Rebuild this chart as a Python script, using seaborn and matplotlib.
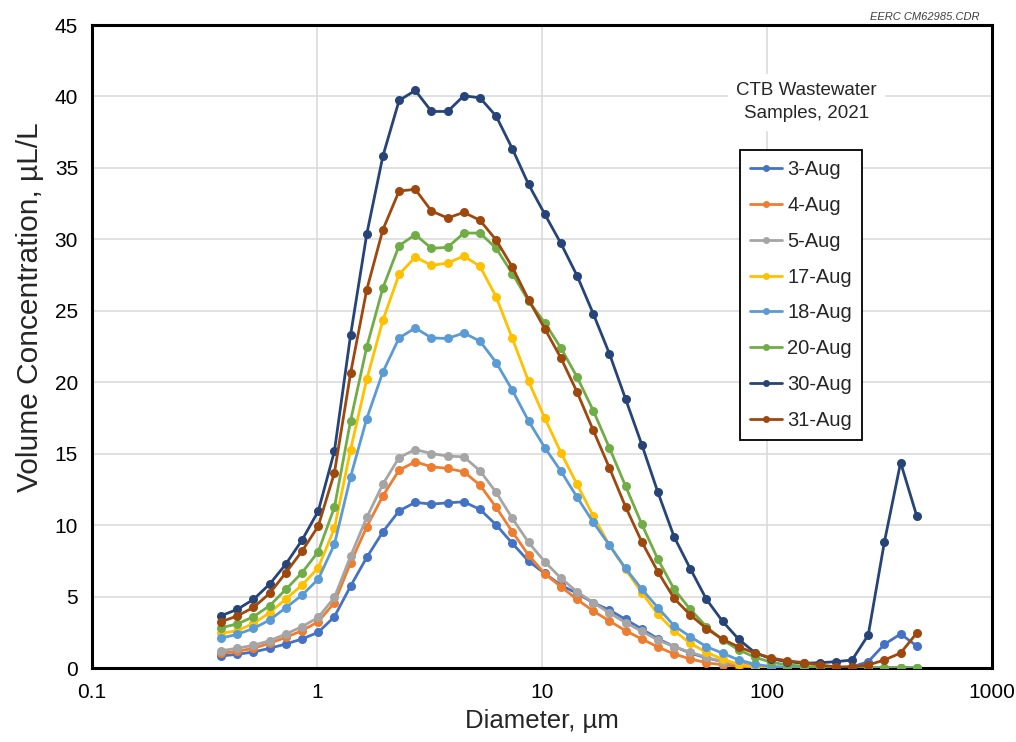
import numpy as np
import pandas as pd
import matplotlib
matplotlib.use("Agg")
import matplotlib.pyplot as plt
import seaborn as sns

# Particle diameter channels, um
diameters = [0.375, 0.442, 0.522, 0.616, 0.727, 0.858, 1.013, 1.195, 1.410, 1.664,
             1.963, 2.317, 2.734, 3.227, 3.807, 4.493, 5.302, 6.256, 7.382, 8.712,
             10.28, 12.13, 14.31, 16.89, 19.93, 23.52, 27.76, 32.75, 38.65, 45.61,
             53.83, 63.52, 74.96, 88.46, 104.4, 123.2, 145.4, 171.5, 202.4, 238.9,
             281.8, 332.6, 392.5, 463.2]

aug03 = [0.84, 0.96, 1.12, 1.38, 1.68, 2.03, 2.5, 3.59, 5.73, 7.74,
         9.53, 11.0, 11.59, 11.47, 11.56, 11.63, 11.1, 10.02, 8.72, 7.48,
         6.62, 5.8, 5.22, 4.57, 4.06, 3.4, 2.73, 2.05, 1.5, 1.05,
         0.7, 0.45, 0.28, 0.15, 0.08, 0.05, 0.03, 0.02, 0.02, 0.08,
         0.44, 1.66, 2.38, 1.54]
aug04 = [1.03, 1.17, 1.38, 1.73, 2.15, 2.61, 3.24, 4.57, 7.36, 9.88,
         12.05, 13.85, 14.43, 14.08, 13.97, 13.73, 12.8, 11.24, 9.53, 7.9,
         6.6, 5.69, 4.8, 3.99, 3.29, 2.61, 2.03, 1.47, 0.98, 0.63,
         0.37, 0.22, 0.12, 0.06, 0.03, 0.02, 0.01, 0.0, 0.0, 0.0,
         0.0, 0.0, 0.0, 0.0]
aug05 = [1.21, 1.38, 1.59, 1.91, 2.38, 2.89, 3.54, 4.94, 7.83, 10.54,
         12.87, 14.73, 15.29, 15.01, 14.83, 14.78, 13.8, 12.29, 10.47, 8.79,
         7.44, 6.29, 5.33, 4.58, 3.85, 3.18, 2.57, 1.96, 1.49, 1.1,
         0.75, 0.44, 0.25, 0.12, 0.05, 0.02, 0.01, 0.0, 0.0, 0.0,
         0.0, 0.0, 0.0, 0.0]
aug17 = [2.42, 2.61, 3.12, 3.87, 4.83, 5.8, 7.02, 9.77, 15.29, 20.21,
         24.34, 27.55, 28.76, 28.18, 28.34, 28.83, 28.11, 25.97, 23.06, 20.07,
         17.5, 15.08, 12.86, 10.65, 8.6, 6.9, 5.27, 3.76, 2.61, 1.72,
         1.1, 0.61, 0.26, 0.05, 0.0, 0.0, 0.0, 0.0, 0.0, 0.0,
         0.0, 0.0, 0.0, 0.0]
aug18 = [2.1, 2.35, 2.77, 3.36, 4.22, 5.1, 6.22, 8.65, 13.38, 17.46,
         20.72, 23.1, 23.8, 23.1, 23.06, 23.45, 22.87, 21.38, 19.44, 17.29,
         15.43, 13.78, 11.96, 10.2, 8.6, 6.97, 5.52, 4.22, 2.96, 2.19,
         1.49, 1.03, 0.56, 0.26, 0.1, 0.05, 0.03, 0.02, 0.01, 0.01,
         0.02, 0.03, 0.03, 0.02]
aug20 = [2.82, 3.08, 3.59, 4.36, 5.5, 6.67, 8.14, 11.24, 17.3, 22.47,
         26.6, 29.56, 30.33, 29.37, 29.44, 30.44, 30.44, 29.37, 27.6, 25.69,
         24.17, 22.4, 20.37, 18.02, 15.41, 12.73, 10.07, 7.6, 5.52, 4.1,
         2.89, 1.96, 1.26, 0.75, 0.4, 0.22, 0.12, 0.06, 0.03, 0.02,
         0.01, 0.01, 0.01, 0.01]
aug30 = [3.66, 4.1, 4.8, 5.87, 7.27, 8.95, 10.98, 15.17, 23.3, 30.37,
         35.83, 39.72, 40.42, 38.95, 38.95, 40.05, 39.9, 38.62, 36.34, 33.85,
         31.77, 29.72, 27.46, 24.8, 22.0, 18.83, 15.64, 12.29, 9.18, 6.95,
         4.8, 3.26, 2.0, 1.07, 0.64, 0.45, 0.33, 0.37, 0.44, 0.56,
         2.31, 8.83, 14.38, 10.63]
aug31 = [3.24, 3.64, 4.24, 5.22, 6.67, 8.18, 9.93, 13.66, 20.63, 26.48,
         30.68, 33.38, 33.5, 31.98, 31.49, 31.89, 31.33, 29.95, 28.06, 25.78,
         23.75, 21.7, 19.32, 16.64, 14.01, 11.28, 8.83, 6.73, 4.87, 3.71,
         2.76, 2.01, 1.47, 1.04, 0.7, 0.5, 0.38, 0.21, 0.08, 0.08,
         0.21, 0.56, 1.05, 2.45]

sample_dates = ["3-Aug", "4-Aug", "5-Aug", "17-Aug", "18-Aug", "20-Aug", "30-Aug", "31-Aug"]
series = [aug03, aug04, aug05, aug17, aug18, aug20, aug30, aug31]
colors = ["#4472C4", "#ED7D31", "#A5A5A5", "#FFC000", "#5B9BD5", "#70AD47", "#264478", "#9E480E"]

df = pd.concat(
    [pd.DataFrame({"Diameter": diameters, "Conc": vals, "Sample": name})
     for name, vals in zip(sample_dates, series)],
    ignore_index=True,
)

sns.set_theme(style="white")
plt.rcParams["font.family"] = ["Liberation Sans", "DejaVu Sans"]

fig = plt.figure(figsize=(10.16, 7.42), dpi=100)
ax = fig.add_axes([92 / 1016, 1 - 668 / 742, 900 / 1016, 643 / 742])

sns.lineplot(
    data=df, x="Diameter", y="Conc", hue="Sample", hue_order=sample_dates,
    palette=colors, marker="o", markersize=6.5, markeredgewidth=0,
    linewidth=2.0, ax=ax, legend=False, zorder=3,
)

ax.set_xscale("log")
ax.set_xlim(0.1, 1000)
ax.set_ylim(0, 45)
ax.set_xticks([0.1, 1, 10, 100, 1000])
ax.set_xticklabels(["0.1", "1", "10", "100", "1000"])
ax.set_yticks(np.arange(0, 46, 5))
ax.minorticks_off()
ax.tick_params(axis="both", length=0, labelsize=15, colors="black")
ax.tick_params(axis="x", pad=11)
ax.tick_params(axis="y", pad=10)
ax.grid(True, which="major", color="#d9d9d9", linewidth=1.1, zorder=0)
ax.set_axisbelow(True)
for sp in ax.spines.values():
    sp.set_color("black")
    sp.set_linewidth(2.2)

ax.set_xlabel("Diameter, \u00b5m", fontsize=18.5, labelpad=5)
ax.set_ylabel("Volume Concentration, \u00b5L/L", fontsize=21.5)
ax.yaxis.set_label_coords(-0.053, 0.561)

handles = [
    plt.Line2D([], [], color=c, marker="o", markersize=5, markeredgewidth=0, linewidth=2.0)
    for c in colors
]
leg = ax.legend(
    handles, sample_dates, loc="upper left", bbox_to_anchor=(0.72, 0.806),
    borderaxespad=0, fontsize=14.5, frameon=True, fancybox=False,
    handlelength=1.6, handletextpad=0.25, labelspacing=0.84,
    borderpad=0.5,
)
leg.get_frame().set_edgecolor("black")
leg.get_frame().set_linewidth(1.3)
leg.get_frame().set_facecolor("white")
leg.get_frame().set_alpha(1)

ax.text(0.794, 0.88, "CTB Wastewater\nSamples, 2021", transform=ax.transAxes,
        ha="center", va="center", fontsize=13.5, linespacing=1.5,
        bbox=dict(facecolor="white", edgecolor="none", pad=6), zorder=4)

fig.text(980 / 1016, 1 - 17 / 742, "EERC CM62985.CDR", ha="right", va="center",
         fontsize=8, style="italic", color="#404040")

fig.savefig("out.png", dpi=100, facecolor="white")
